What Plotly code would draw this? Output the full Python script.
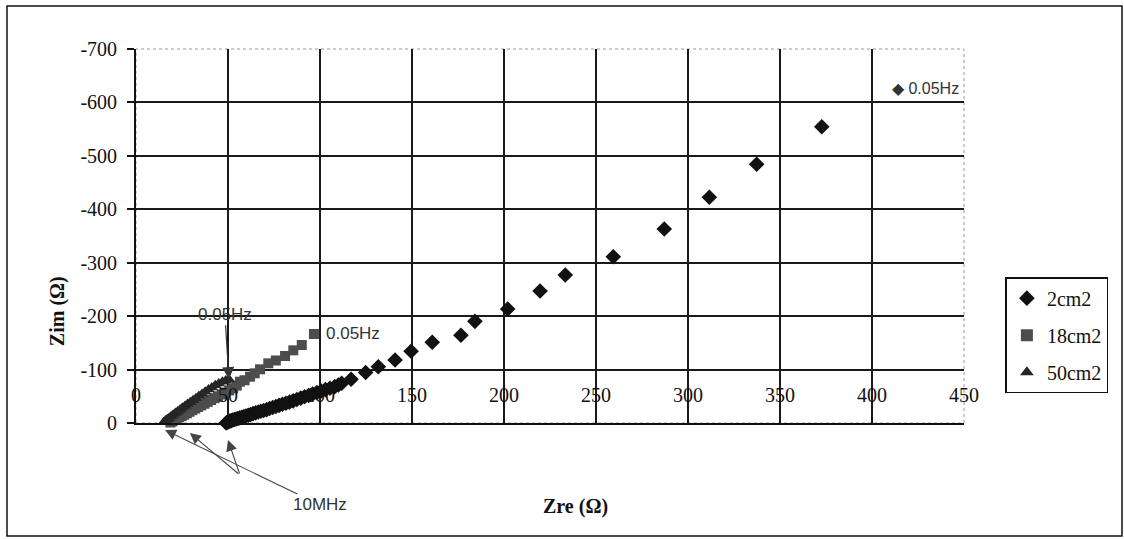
import plotly.graph_objects as go

# Nyquist data: real (Zre) and imaginary (Zim) impedance, ohm
zre_2cm2 = [48.5, 49.0, 49.6, 50.3, 51.0, 51.8, 52.6, 53.5, 54.4, 55.4, 56.4, 57.5, 58.6,
            59.8, 61.0, 62.3, 63.6, 65.0, 66.4, 67.9, 69.4, 71.0, 72.6, 74.3, 76.0, 77.8,
            79.6, 81.5, 83.4, 85.4, 87.4, 89.5, 91.6, 93.8, 96.0, 98.3, 100.6, 103.0,
            105.4, 108.0, 110.0, 111.8, 116.9, 124.8, 131.7, 140.8, 149.5, 161.0,
            176.6, 184.2, 202.0, 219.6, 233.3, 259.4, 287.1, 311.6, 337.3, 372.7]
zim_2cm2 = [1.5, 0, -1.5, -2.5, -3.5, -4.5, -5.5, -6.5, -7.5, -8.5, -9.5, -10.5, -12,
            -13, -14.5, -16, -17.5, -19, -20.5, -22, -23.5, -25, -27, -29, -31, -33,
            -35, -37, -39, -41.5, -44, -46.5, -49, -51.5, -54, -57, -60, -62.5,
            -65, -68, -71, -74.3, -81.8, -94.5, -105.4, -117.9, -134.2, -151.0,
            -164.1, -190.3, -213.4, -247.1, -277.0, -311.3, -363.1, -422.4, -484.2, -554.6]

zre_18cm2 = [16.0, 16.8, 17.7, 18.7, 19.8, 21.0, 22.2, 23.5, 24.8, 26.2, 27.6, 29.1, 30.6,
             32.2, 33.8, 35.5, 37.2, 39.0, 40.8, 42.7, 44.6, 46.6, 48.6, 50.7, 52.8, 54.8,
             56.5, 59.0, 62.0, 64.5, 67.4, 71.9, 76.0, 81.0, 85.5, 90.1, 96.7]
zim_18cm2 = [5, 3, 1, -1, -3, -5.5, -8, -10.5, -13, -15.5, -18, -21, -24,
             -27, -30, -33, -36, -39.5, -43, -46.5, -50, -53.5, -57, -61, -65, -70,
             -77.3, -80, -86.7, -93, -100.5, -111.7, -117, -125.4, -136, -146.0, -166.6]

zre_50cm2 = [13.0, 13.6, 14.3, 15.1, 16.0, 17.0, 18.0, 19.1, 20.2, 21.4, 22.6, 23.9, 25.2,
             26.6, 28.0, 29.5, 31.0, 32.6, 34.2, 35.9, 37.6, 39.4, 41.2, 43.1, 45.0, 47.0,
             48.8, 50.5]
zim_50cm2 = [5, 3, 0.5, -2, -4.5, -7, -9.5, -12.5, -15.5, -18.5, -21.5, -25, -28.5,
             -32, -35.5, -39, -42.5, -46.5, -50.5, -54.5, -58.5, -62.5, -66.5, -70.5, -74, -77,
             -79.5, -82]

x_ticks = [0, 50, 100, 150, 200, 250, 300, 350, 400, 450]
y_ticks = [0, -100, -200, -300, -400, -500, -600, -700]
y_tick_text = ["0", "-100", "-200", "-300", "-400", "-500", "-600", "-700"]

# first (10 MHz) point that each pointer arrow targets, in ohm
tip_10mhz = [(15.8, 13.1), (29.3, 18.7), (50.0, 31.8)]

SERIF = "Liberation Serif, Times New Roman, serif"
SANS = "Liberation Sans, Arial, sans-serif"

X_RANGE = [0, 450]
Y_RANGE = [0, -700]


def to_paper(x, y):
    """Map ohm coordinates onto paper fractions (valid also below the Zre axis)."""
    px = (x - X_RANGE[0]) / (X_RANGE[1] - X_RANGE[0])
    py = (y - Y_RANGE[0]) / (Y_RANGE[1] - Y_RANGE[0])
    return px, py


fig = go.Figure()
fig.add_trace(go.Scatter(x=zre_2cm2, y=zim_2cm2, mode="markers", name="2cm2",
                         legendgroup="a", cliponaxis=False,
                         marker=dict(symbol="diamond", size=12, color="#111111")))
fig.add_trace(go.Scatter(x=zre_18cm2, y=zim_18cm2, mode="markers", name="18cm2",
                         legendgroup="b", cliponaxis=False,
                         marker=dict(symbol="square", size=10, color="#4d4d4d")))
fig.add_trace(go.Scatter(x=zre_50cm2, y=zim_50cm2, mode="markers", name="50cm2",
                         legendgroup="c", cliponaxis=False,
                         marker=dict(symbol="triangle-up", size=11, color="#262626")))

annotations = []
# x tick labels sit just above the Zre axis line
for v in x_ticks:
    annotations.append(dict(x=v, y=-52, xref="x", yref="y", text=str(v), showarrow=False,
                            xanchor="center", yanchor="middle",
                            font=dict(family=SERIF, size=20, color="#111")))

# frequency labels
annotations.append(dict(x=409.8, y=-627, xref="x", yref="y", text="◆ 0.05Hz",
                        showarrow=False, xanchor="left", yanchor="middle",
                        font=dict(family=SANS, size=16, color="#333")))
annotations.append(dict(x=zre_18cm2[-1], y=zim_18cm2[-1], xref="x", yref="y", text="0.05Hz",
                        showarrow=False, xanchor="left", yanchor="middle", xshift=10,
                        font=dict(family=SANS, size=17, color="#333")))
annotations.append(dict(x=zre_50cm2[-1], y=zim_50cm2[-1], xref="x", yref="y", text="0.05Hz",
                        showarrow=True, ax=-4, ay=-65, arrowhead=2, arrowsize=2,
                        arrowwidth=1.2, arrowcolor="#333", standoff=0,
                        font=dict(family=SANS, size=17, color="#333")))

# 10 MHz pointers (paper refs so they may point below the axis line)
offsets = [(155, 75), (50, 42), (12, 35)]
for i, ((tx, ty), (ox, oy)) in enumerate(zip(tip_10mhz, offsets)):
    px, py = to_paper(tx, ty)
    annotations.append(dict(x=px, y=py, xref="paper", yref="paper",
                            text="10MHz" if i == 0 else "",
                            showarrow=True, ax=ox, ay=oy, arrowhead=2, arrowsize=2,
                            arrowwidth=1.1, arrowcolor="#444", standoff=0,
                            font=dict(family=SANS, size=17, color="#333")))

# axis titles
annotations.append(dict(x=0.531, y=-0.222, xref="paper", yref="paper", text="<b>Zre (Ω)</b>",
                        showarrow=False, xanchor="center", yanchor="middle",
                        font=dict(family=SERIF, size=20, color="#111")))
annotations.append(dict(x=-0.095, y=0.30, xref="paper", yref="paper", text="<b>Zim (Ω)</b>",
                        showarrow=False, textangle=-90, xanchor="center", yanchor="middle",
                        font=dict(family=SERIF, size=20, color="#111")))

shapes = [
    # plot-area border (top / right)
    dict(type="rect", xref="paper", yref="paper", x0=0, x1=1, y0=0, y1=1,
         line=dict(color="#999", width=1, dash="dot"), layer="below"),
    # chart frame
    dict(type="rect", xref="paper", yref="paper", x0=-0.1558, x1=1.1908, y0=-0.302, y1=1.115,
         line=dict(color="#111", width=1.5)),
]

fig.update_layout(
    width=1124, height=539,
    margin=dict(l=136, r=160, t=49, b=116),
    paper_bgcolor="white", plot_bgcolor="white",
    showlegend=True,
    legend=dict(x=1.05, y=0.39, xanchor="left", yanchor="top",
                bordercolor="#111", borderwidth=1.5, bgcolor="white",
                font=dict(family=SERIF, size=20, color="#111"),
                itemwidth=30, tracegroupgap=8, itemsizing="constant"),
    annotations=annotations,
    shapes=shapes,
)
fig.update_xaxes(range=X_RANGE, tickvals=x_ticks[1:-1], showticklabels=False,
                 showgrid=True, gridcolor="#1a1a1a", gridwidth=1.5,
                 showline=True, linecolor="#111", linewidth=1.8,
                 zeroline=False, ticks="")
fig.update_yaxes(range=Y_RANGE, tickvals=y_ticks, ticktext=y_tick_text,
                 showgrid=True, gridcolor="#1a1a1a", gridwidth=1.5,
                 showline=True, linecolor="#111", linewidth=1.8,
                 zeroline=False, ticks="outside", ticklen=7, tickwidth=1.5, tickcolor="#111",
                 ticklabelstandoff=6,
                 tickfont=dict(family=SERIF, size=20, color="#111"))

fig.write_html("out.html")
